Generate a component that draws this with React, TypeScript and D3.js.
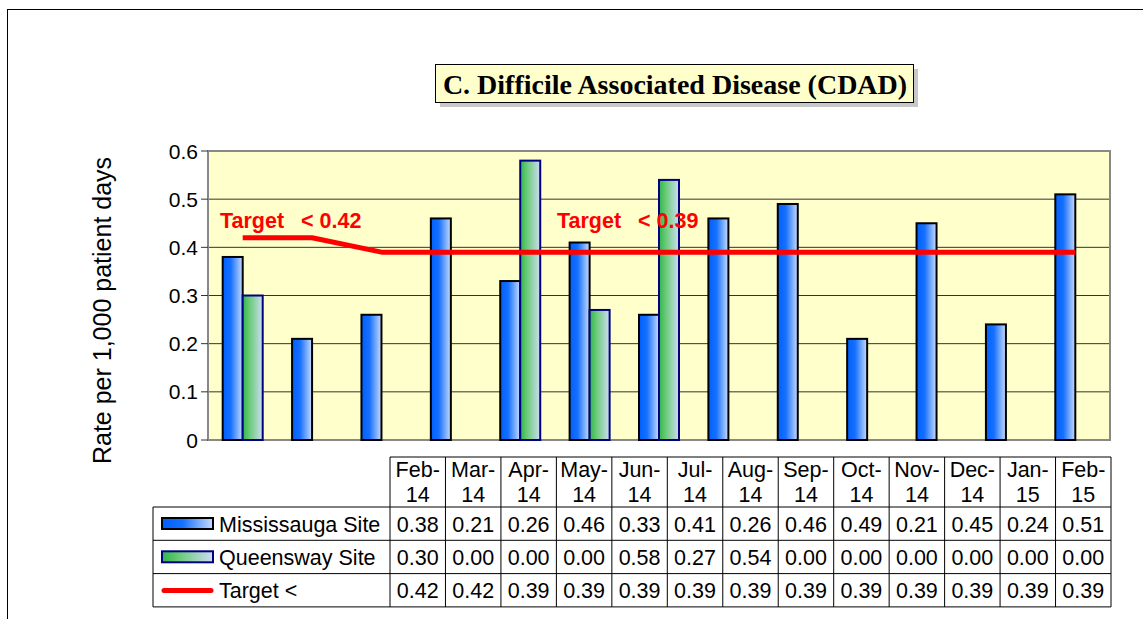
import React from "react";
import * as d3 from "d3";

const categories = ["Feb-14", "Mar-14", "Apr-14", "May-14", "Jun-14", "Jul-14", "Aug-14", "Sep-14", "Oct-14", "Nov-14", "Dec-14", "Jan-15", "Feb-15"];
const mississauga = [0.38, 0.21, 0.26, 0.46, 0.33, 0.41, 0.26, 0.46, 0.49, 0.21, 0.45, 0.24, 0.51];
const queensway = [0.30, 0.00, 0.00, 0.00, 0.58, 0.27, 0.54, 0.00, 0.00, 0.00, 0.00, 0.00, 0.00];
const target = [0.42, 0.42, 0.39, 0.39, 0.39, 0.39, 0.39, 0.39, 0.39, 0.39, 0.39, 0.39, 0.39];
const yTicks = [0, 0.1, 0.2, 0.3, 0.4, 0.5, 0.6];
const seriesNames = ["Mississauga Site", "Queensway Site", "Target <"];
const title = "C. Difficile Associated Disease (CDAD)";
const yTitle = "Rate per 1,000 patient days";
const targetLabels = [
  { word: "Target", value: "< 0.42", x: 220 },
  { word: "Target", value: "< 0.39", x: 557 },
];

const W = 1143;
const H = 619;
const plot = { left: 208, right: 1110, top: 151, bottom: 440 };
const table = { left: 153, labelRight: 390, right: 1111, headTop: 457, headBottom: 507, rowH: 33.3 };
const SANS = "'Liberation Sans', Arial, sans-serif";
const SERIF = "'Liberation Serif', 'Times New Roman', serif";

export default function App() {
  const x = d3.scaleBand<string>().domain(categories).range([plot.left, plot.right]).padding(0);
  const y = d3.scaleLinear().domain([0, 0.6]).range([plot.bottom, plot.top]);
  const col = d3.scaleBand<string>().domain(categories).range([table.labelRight, table.right]).padding(0);
  const barW = 20;
  const cx = (c: string) => (x(c) as number) + x.bandwidth() / 2;

  const line = d3
    .line<number>()
    .x((_, i) => cx(categories[i]))
    .y((d) => y(d));

  const rowY = (r: number) => table.headBottom + r * table.rowH;
  const tableRows = [mississauga, queensway, target];

  return (
    <div style={{ position: "absolute", left: 0, top: 0 }}>
      <svg width={W} height={H} style={{ display: "block", background: "#fff" }}>
        <defs>
          <linearGradient id="gBlue" x1="0" x2="1" y1="0" y2="0">
            <stop offset="0" stopColor="#0060ff" />
            <stop offset="0.4" stopColor="#1670ff" />
            <stop offset="1" stopColor="#c8dcff" />
          </linearGradient>
          <linearGradient id="gGreen" x1="0" x2="1" y1="0" y2="0">
            <stop offset="0" stopColor="#2fb64a" />
            <stop offset="0.35" stopColor="#6ccb7a" />
            <stop offset="1" stopColor="#cfdcf4" />
          </linearGradient>
        </defs>

        {/* outer frame */}
        <rect x={7.5} y={9.5} width={1160} height={640} fill="none" stroke="#000" strokeWidth={1} />

        {/* title */}
        <rect x={440} y={69} width={478} height={38} fill="#c8c8c8" />
        <rect x={435.5} y={64.5} width={478} height={38} fill="#ffffcc" stroke="#000" strokeWidth={1} />
        <text x={675} y={93.5} textAnchor="middle" fontFamily={SERIF} fontWeight="bold" fontSize={28}>
          {title}
        </text>

        {/* plot area */}
        <rect x={plot.left} y={plot.top} width={plot.right - plot.left} height={plot.bottom - plot.top} fill="#ffffcc" />
        {yTicks.slice(1, -1).map((t) => (
          <line key={t} x1={plot.left} x2={plot.right} y1={y(t)} y2={y(t)} stroke="#333" strokeWidth={1} />
        ))}
        <rect x={plot.left} y={plot.top} width={plot.right - plot.left} height={plot.bottom - plot.top} fill="none" stroke="#888" strokeWidth={2} />

        {/* y axis */}
        {yTicks.map((t) => (
          <g key={t}>
            <line x1={plot.left - 7} x2={plot.left} y1={y(t)} y2={y(t)} stroke="#333" strokeWidth={1} />
            <text x={198} y={y(t) + 7.5} textAnchor="end" fontFamily={SANS} fontSize={21}>
              {t === 0 ? "0" : t.toFixed(1)}
            </text>
          </g>
        ))}
        <text
          transform={`translate(111, ${(plot.top + plot.bottom) / 2 + 15}) rotate(-90)`}
          textAnchor="middle"
          fontFamily={SANS}
          fontSize={25}
        >
          {yTitle}
        </text>

        {/* bars */}
        {categories.map((c, i) => (
          <g key={c}>
            {mississauga[i] > 0 && (
              <rect x={cx(c) - barW} y={y(mississauga[i])} width={barW} height={y(0) - y(mississauga[i])} fill="url(#gBlue)" stroke="#000" strokeWidth={2} />
            )}
            {queensway[i] > 0 && (
              <rect x={cx(c)} y={y(queensway[i])} width={barW} height={y(0) - y(queensway[i])} fill="url(#gGreen)" stroke="#000080" strokeWidth={2} />
            )}
          </g>
        ))}

        {/* target line */}
        <path d={line(target) || ""} fill="none" stroke="#ff0000" strokeWidth={5} strokeLinejoin="round" />
        {targetLabels.map((l) => (
          <text key={l.value} y={228} fontFamily={SANS} fontWeight="bold" fontSize={21.5} fill="#ff0000">
            <tspan x={l.x}>{l.word}</tspan>
            <tspan x={l.x + 81}>{l.value}</tspan>
          </text>
        ))}

        {/* data table */}
        <g fontFamily={SANS} fontSize={21.5}>
          <line x1={table.labelRight} x2={table.right} y1={table.headTop} y2={table.headTop} stroke="#000" />
          {categories.map((c, i) => {
            const [m, yy] = c.split("-");
            const cc = (col(c) as number) + col.bandwidth() / 2;
            return (
              <g key={c}>
                <text x={cc} y={477} textAnchor="middle">{m + "-"}</text>
                <text x={cc} y={502} textAnchor="middle">{yy}</text>
                {tableRows.map((row, r) => (
                  <text key={r} x={cc} y={rowY(r) + table.rowH / 2 + 8} textAnchor="middle">
                    {row[i].toFixed(2)}
                  </text>
                ))}
              </g>
            );
          })}
          {[...categories.map((c) => col(c) as number), table.right].map((xx, i) => (
            <line key={i} x1={xx} x2={xx} y1={table.headTop} y2={rowY(3)} stroke="#000" />
          ))}
          <line x1={table.left} x2={table.left} y1={rowY(0)} y2={rowY(3)} stroke="#000" />
          {[0, 1, 2, 3].map((r) => (
            <line key={r} x1={table.left} x2={table.right} y1={rowY(r)} y2={rowY(r)} stroke="#000" />
          ))}
          {seriesNames.map((s, r) => (
            <text key={s} x={219} y={rowY(r) + table.rowH / 2 + 8}>{s}</text>
          ))}
        </g>

        {/* legend keys */}
        <rect x={162} y={rowY(0) + 11} width={51} height={11} fill="url(#gBlue)" stroke="#000" strokeWidth={2} />
        <rect x={162} y={rowY(1) + 11} width={51} height={11} fill="url(#gGreen)" stroke="#000080" strokeWidth={2} />
        <line x1={164} x2={211} y1={rowY(2) + 17} y2={rowY(2) + 17} stroke="#ff0000" strokeWidth={5} strokeLinecap="round" />
      </svg>
    </div>
  );
}
